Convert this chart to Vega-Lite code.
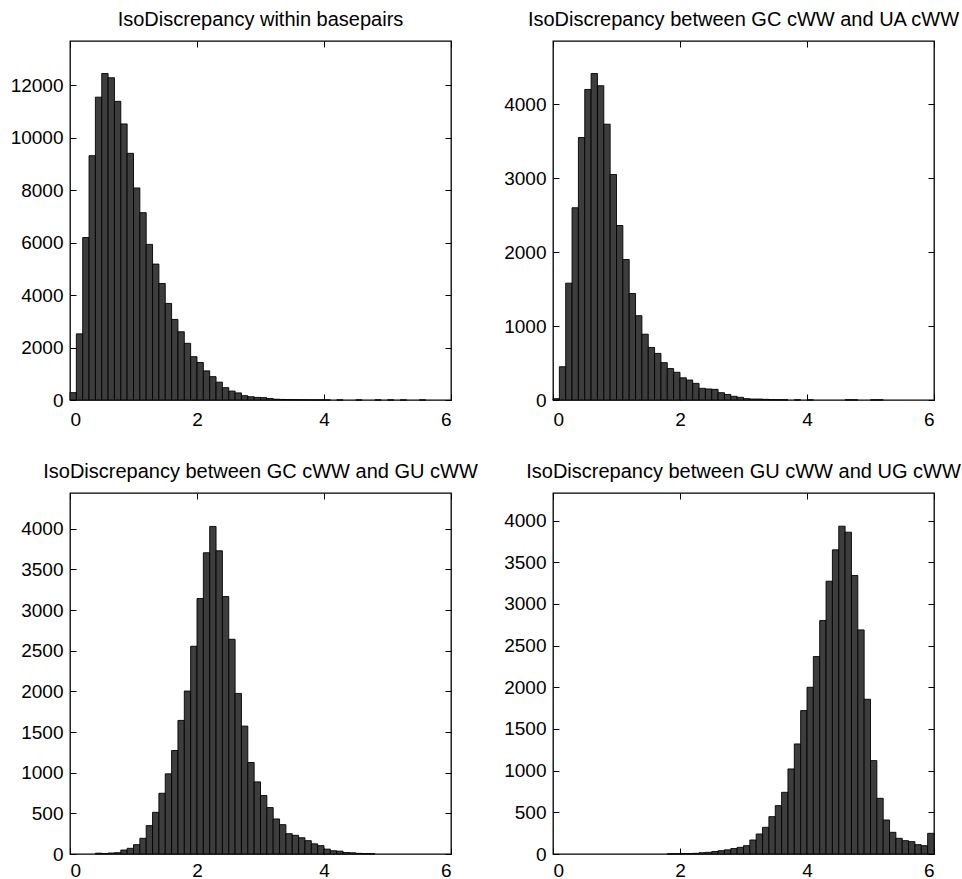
{
  "$schema": "https://vega.github.io/schema/vega-lite/v6.json",
  "background": "white",
  "padding": {"left": 9, "top": 8, "right": 5, "bottom": 0},
  "bounds": "flush",
  "spacing": {"row": 93, "column": 102},
  "columns": 2,
  "data": {"name": "hist"},
  "datasets": {
    "hist": [
      {"panel": "a", "b0": 0.0, "b1": 0.1, "count": 280},
      {"panel": "a", "b0": 0.1, "b1": 0.2, "count": 2520},
      {"panel": "a", "b0": 0.2, "b1": 0.3, "count": 6190},
      {"panel": "a", "b0": 0.3, "b1": 0.4, "count": 9310},
      {"panel": "a", "b0": 0.4, "b1": 0.5, "count": 11540},
      {"panel": "a", "b0": 0.5, "b1": 0.6, "count": 12440},
      {"panel": "a", "b0": 0.6, "b1": 0.7, "count": 12280},
      {"panel": "a", "b0": 0.7, "b1": 0.8, "count": 11380},
      {"panel": "a", "b0": 0.8, "b1": 0.9, "count": 10520},
      {"panel": "a", "b0": 0.9, "b1": 1.0, "count": 9400},
      {"panel": "a", "b0": 1.0, "b1": 1.1, "count": 8080},
      {"panel": "a", "b0": 1.1, "b1": 1.2, "count": 7140},
      {"panel": "a", "b0": 1.2, "b1": 1.3, "count": 5930},
      {"panel": "a", "b0": 1.3, "b1": 1.4, "count": 5180},
      {"panel": "a", "b0": 1.4, "b1": 1.5, "count": 4440},
      {"panel": "a", "b0": 1.5, "b1": 1.6, "count": 3680},
      {"panel": "a", "b0": 1.6, "b1": 1.7, "count": 3070},
      {"panel": "a", "b0": 1.7, "b1": 1.8, "count": 2600},
      {"panel": "a", "b0": 1.8, "b1": 1.9, "count": 2160},
      {"panel": "a", "b0": 1.9, "b1": 2.0, "count": 1650},
      {"panel": "a", "b0": 2.0, "b1": 2.1, "count": 1430},
      {"panel": "a", "b0": 2.1, "b1": 2.2, "count": 1110},
      {"panel": "a", "b0": 2.2, "b1": 2.3, "count": 890},
      {"panel": "a", "b0": 2.3, "b1": 2.4, "count": 680},
      {"panel": "a", "b0": 2.4, "b1": 2.5, "count": 470},
      {"panel": "a", "b0": 2.5, "b1": 2.6, "count": 340},
      {"panel": "a", "b0": 2.6, "b1": 2.7, "count": 270},
      {"panel": "a", "b0": 2.7, "b1": 2.8, "count": 165},
      {"panel": "a", "b0": 2.8, "b1": 2.9, "count": 125},
      {"panel": "a", "b0": 2.9, "b1": 3.0, "count": 100},
      {"panel": "a", "b0": 3.0, "b1": 3.1, "count": 90},
      {"panel": "a", "b0": 3.1, "b1": 3.2, "count": 55},
      {"panel": "a", "b0": 3.2, "b1": 3.3, "count": 30},
      {"panel": "a", "b0": 3.3, "b1": 3.4, "count": 22},
      {"panel": "a", "b0": 3.4, "b1": 3.5, "count": 15},
      {"panel": "a", "b0": 3.5, "b1": 3.6, "count": 12},
      {"panel": "a", "b0": 3.6, "b1": 3.7, "count": 9},
      {"panel": "a", "b0": 3.7, "b1": 3.8, "count": 6},
      {"panel": "a", "b0": 3.8, "b1": 3.9, "count": 5},
      {"panel": "a", "b0": 3.9, "b1": 4.0, "count": 4},
      {"panel": "a", "b0": 4.0, "b1": 4.1, "count": 3},
      {"panel": "a", "b0": 4.2, "b1": 4.3, "count": 2},
      {"panel": "a", "b0": 4.5, "b1": 4.6, "count": 2},
      {"panel": "a", "b0": 4.8, "b1": 4.9, "count": 3},
      {"panel": "a", "b0": 5.0, "b1": 5.1, "count": 2},
      {"panel": "a", "b0": 5.2, "b1": 5.3, "count": 1},
      {"panel": "a", "b0": 5.5, "b1": 5.6, "count": 2},

      {"panel": "b", "b0": 0.0, "b1": 0.1, "count": 18},
      {"panel": "b", "b0": 0.1, "b1": 0.2, "count": 450},
      {"panel": "b", "b0": 0.2, "b1": 0.3, "count": 1580},
      {"panel": "b", "b0": 0.3, "b1": 0.4, "count": 2600},
      {"panel": "b", "b0": 0.4, "b1": 0.5, "count": 3550},
      {"panel": "b", "b0": 0.5, "b1": 0.6, "count": 4200},
      {"panel": "b", "b0": 0.6, "b1": 0.7, "count": 4415},
      {"panel": "b", "b0": 0.7, "b1": 0.8, "count": 4250},
      {"panel": "b", "b0": 0.8, "b1": 0.9, "count": 3730},
      {"panel": "b", "b0": 0.9, "b1": 1.0, "count": 3050},
      {"panel": "b", "b0": 1.0, "b1": 1.1, "count": 2360},
      {"panel": "b", "b0": 1.1, "b1": 1.2, "count": 1900},
      {"panel": "b", "b0": 1.2, "b1": 1.3, "count": 1440},
      {"panel": "b", "b0": 1.3, "b1": 1.4, "count": 1140},
      {"panel": "b", "b0": 1.4, "b1": 1.5, "count": 890},
      {"panel": "b", "b0": 1.5, "b1": 1.6, "count": 710},
      {"panel": "b", "b0": 1.6, "b1": 1.7, "count": 630},
      {"panel": "b", "b0": 1.7, "b1": 1.8, "count": 505},
      {"panel": "b", "b0": 1.8, "b1": 1.9, "count": 425},
      {"panel": "b", "b0": 1.9, "b1": 2.0, "count": 375},
      {"panel": "b", "b0": 2.0, "b1": 2.1, "count": 300},
      {"panel": "b", "b0": 2.1, "b1": 2.2, "count": 270},
      {"panel": "b", "b0": 2.2, "b1": 2.3, "count": 225},
      {"panel": "b", "b0": 2.3, "b1": 2.4, "count": 158},
      {"panel": "b", "b0": 2.4, "b1": 2.5, "count": 149},
      {"panel": "b", "b0": 2.5, "b1": 2.6, "count": 144},
      {"panel": "b", "b0": 2.6, "b1": 2.7, "count": 99},
      {"panel": "b", "b0": 2.7, "b1": 2.8, "count": 75},
      {"panel": "b", "b0": 2.8, "b1": 2.9, "count": 50},
      {"panel": "b", "b0": 2.9, "b1": 3.0, "count": 36},
      {"panel": "b", "b0": 3.0, "b1": 3.1, "count": 18},
      {"panel": "b", "b0": 3.1, "b1": 3.2, "count": 13},
      {"panel": "b", "b0": 3.2, "b1": 3.3, "count": 13},
      {"panel": "b", "b0": 3.3, "b1": 3.4, "count": 9},
      {"panel": "b", "b0": 3.4, "b1": 3.5, "count": 5},
      {"panel": "b", "b0": 3.5, "b1": 3.6, "count": 4},
      {"panel": "b", "b0": 3.6, "b1": 3.7, "count": 3},
      {"panel": "b", "b0": 3.8, "b1": 3.9, "count": 2},
      {"panel": "b", "b0": 4.0, "b1": 4.1, "count": 2},
      {"panel": "b", "b0": 4.6, "b1": 4.7, "count": 3},
      {"panel": "b", "b0": 4.7, "b1": 4.8, "count": 2},
      {"panel": "b", "b0": 5.0, "b1": 5.1, "count": 2},
      {"panel": "b", "b0": 5.1, "b1": 5.2, "count": 2},

      {"panel": "c", "b0": 0.4, "b1": 0.5, "count": 10},
      {"panel": "c", "b0": 0.5, "b1": 0.6, "count": 4},
      {"panel": "c", "b0": 0.6, "b1": 0.7, "count": 12},
      {"panel": "c", "b0": 0.7, "b1": 0.8, "count": 16},
      {"panel": "c", "b0": 0.8, "b1": 0.9, "count": 49},
      {"panel": "c", "b0": 0.9, "b1": 1.0, "count": 70},
      {"panel": "c", "b0": 1.0, "b1": 1.1, "count": 115},
      {"panel": "c", "b0": 1.1, "b1": 1.2, "count": 193},
      {"panel": "c", "b0": 1.2, "b1": 1.3, "count": 349},
      {"panel": "c", "b0": 1.3, "b1": 1.4, "count": 513},
      {"panel": "c", "b0": 1.4, "b1": 1.5, "count": 747},
      {"panel": "c", "b0": 1.5, "b1": 1.6, "count": 986},
      {"panel": "c", "b0": 1.6, "b1": 1.7, "count": 1273},
      {"panel": "c", "b0": 1.7, "b1": 1.8, "count": 1643},
      {"panel": "c", "b0": 1.8, "b1": 1.9, "count": 2004},
      {"panel": "c", "b0": 1.9, "b1": 2.0, "count": 2555},
      {"panel": "c", "b0": 2.0, "b1": 2.1, "count": 3142},
      {"panel": "c", "b0": 2.1, "b1": 2.2, "count": 3705},
      {"panel": "c", "b0": 2.2, "b1": 2.3, "count": 4029},
      {"panel": "c", "b0": 2.3, "b1": 2.4, "count": 3729},
      {"panel": "c", "b0": 2.4, "b1": 2.5, "count": 3166},
      {"panel": "c", "b0": 2.5, "b1": 2.6, "count": 2641},
      {"panel": "c", "b0": 2.6, "b1": 2.7, "count": 1975},
      {"panel": "c", "b0": 2.7, "b1": 2.8, "count": 1573},
      {"panel": "c", "b0": 2.8, "b1": 2.9, "count": 1125},
      {"panel": "c", "b0": 2.9, "b1": 3.0, "count": 887},
      {"panel": "c", "b0": 3.0, "b1": 3.1, "count": 719},
      {"panel": "c", "b0": 3.1, "b1": 3.2, "count": 571},
      {"panel": "c", "b0": 3.2, "b1": 3.3, "count": 431},
      {"panel": "c", "b0": 3.3, "b1": 3.4, "count": 361},
      {"panel": "c", "b0": 3.4, "b1": 3.5, "count": 250},
      {"panel": "c", "b0": 3.5, "b1": 3.6, "count": 230},
      {"panel": "c", "b0": 3.6, "b1": 3.7, "count": 200},
      {"panel": "c", "b0": 3.7, "b1": 3.8, "count": 164},
      {"panel": "c", "b0": 3.8, "b1": 3.9, "count": 125},
      {"panel": "c", "b0": 3.9, "b1": 4.0, "count": 103},
      {"panel": "c", "b0": 4.0, "b1": 4.1, "count": 60},
      {"panel": "c", "b0": 4.1, "b1": 4.2, "count": 40},
      {"panel": "c", "b0": 4.2, "b1": 4.3, "count": 35},
      {"panel": "c", "b0": 4.3, "b1": 4.4, "count": 18},
      {"panel": "c", "b0": 4.4, "b1": 4.5, "count": 15},
      {"panel": "c", "b0": 4.5, "b1": 4.6, "count": 8},
      {"panel": "c", "b0": 4.6, "b1": 4.7, "count": 5},
      {"panel": "c", "b0": 4.7, "b1": 4.8, "count": 3},

      {"panel": "d", "b0": 1.8, "b1": 1.9, "count": 2},
      {"panel": "d", "b0": 1.9, "b1": 2.0, "count": 3},
      {"panel": "d", "b0": 2.0, "b1": 2.1, "count": 4},
      {"panel": "d", "b0": 2.1, "b1": 2.2, "count": 5},
      {"panel": "d", "b0": 2.2, "b1": 2.3, "count": 8},
      {"panel": "d", "b0": 2.3, "b1": 2.4, "count": 15},
      {"panel": "d", "b0": 2.4, "b1": 2.5, "count": 20},
      {"panel": "d", "b0": 2.5, "b1": 2.6, "count": 30},
      {"panel": "d", "b0": 2.6, "b1": 2.7, "count": 40},
      {"panel": "d", "b0": 2.7, "b1": 2.8, "count": 50},
      {"panel": "d", "b0": 2.8, "b1": 2.9, "count": 65},
      {"panel": "d", "b0": 2.9, "b1": 3.0, "count": 80},
      {"panel": "d", "b0": 3.0, "b1": 3.1, "count": 100},
      {"panel": "d", "b0": 3.1, "b1": 3.2, "count": 168},
      {"panel": "d", "b0": 3.2, "b1": 3.3, "count": 240},
      {"panel": "d", "b0": 3.3, "b1": 3.4, "count": 320},
      {"panel": "d", "b0": 3.4, "b1": 3.5, "count": 448},
      {"panel": "d", "b0": 3.5, "b1": 3.6, "count": 580},
      {"panel": "d", "b0": 3.6, "b1": 3.7, "count": 740},
      {"panel": "d", "b0": 3.7, "b1": 3.8, "count": 1020},
      {"panel": "d", "b0": 3.8, "b1": 3.9, "count": 1320},
      {"panel": "d", "b0": 3.9, "b1": 4.0, "count": 1720},
      {"panel": "d", "b0": 4.0, "b1": 4.1, "count": 2000},
      {"panel": "d", "b0": 4.1, "b1": 4.2, "count": 2368},
      {"panel": "d", "b0": 4.2, "b1": 4.3, "count": 2800},
      {"panel": "d", "b0": 4.3, "b1": 4.4, "count": 3272},
      {"panel": "d", "b0": 4.4, "b1": 4.5, "count": 3648},
      {"panel": "d", "b0": 4.5, "b1": 4.6, "count": 3932},
      {"panel": "d", "b0": 4.6, "b1": 4.7, "count": 3860},
      {"panel": "d", "b0": 4.7, "b1": 4.8, "count": 3340},
      {"panel": "d", "b0": 4.8, "b1": 4.9, "count": 2688},
      {"panel": "d", "b0": 4.9, "b1": 5.0, "count": 1856},
      {"panel": "d", "b0": 5.0, "b1": 5.1, "count": 1120},
      {"panel": "d", "b0": 5.1, "b1": 5.2, "count": 668},
      {"panel": "d", "b0": 5.2, "b1": 5.3, "count": 408},
      {"panel": "d", "b0": 5.3, "b1": 5.4, "count": 260},
      {"panel": "d", "b0": 5.4, "b1": 5.5, "count": 188},
      {"panel": "d", "b0": 5.5, "b1": 5.6, "count": 160},
      {"panel": "d", "b0": 5.6, "b1": 5.7, "count": 148},
      {"panel": "d", "b0": 5.7, "b1": 5.8, "count": 112},
      {"panel": "d", "b0": 5.8, "b1": 5.9, "count": 100},
      {"panel": "d", "b0": 5.9, "b1": 6.0, "count": 248}
    ]
  },
  "concat": [
    {
      "transform": [{"filter": "datum.panel === 'a'"}],
      "width": 381, "height": 359,
      "title": {"text": "IsoDiscrepancy within basepairs"},
      "layer": [
        {"mark": {"type": "bar", "fill": "#3d3d3d", "stroke": "#000", "strokeWidth": 0.9},
         "encoding": {
           "x": {"field": "b0", "type": "quantitative", "title": null, "scale": {"domain": [0, 6], "nice": false, "zero": false}, "axis": {"orient": "bottom", "values": [0, 2, 4, 6], "format": "d", "labelPadding": 16}},
           "x2": {"field": "b1"},
           "y": {"field": "count", "type": "quantitative", "title": null, "scale": {"domain": [0, 13680], "nice": false}, "axis": {"orient": "left", "values": [0, 2000, 4000, 6000, 8000, 10000, 12000], "format": "d"}},
           "y2": {"datum": 0}}},
        {"mark": {"type": "bar", "opacity": 0},
         "encoding": {
           "x": {"field": "b0", "type": "quantitative", "title": null, "axis": {"orient": "top", "values": [0, 2, 4, 6], "labels": false}},
           "x2": {"field": "b1"},
           "y": {"field": "count", "type": "quantitative", "title": null, "axis": {"orient": "right", "values": [0, 2000, 4000, 6000, 8000, 10000, 12000], "labels": false}},
           "y2": {"datum": 0}}}
      ],
      "resolve": {"axis": {"x": "independent", "y": "independent"}}
    },
    {
      "transform": [{"filter": "datum.panel === 'b'"}],
      "width": 381, "height": 359,
      "title": {"text": "IsoDiscrepancy between GC cWW  and UA cWW"},
      "layer": [
        {"mark": {"type": "bar", "fill": "#3d3d3d", "stroke": "#000", "strokeWidth": 0.9},
         "encoding": {
           "x": {"field": "b0", "type": "quantitative", "title": null, "scale": {"domain": [0, 6], "nice": false, "zero": false}, "axis": {"orient": "bottom", "values": [0, 2, 4, 6], "format": "d", "labelPadding": 16}},
           "x2": {"field": "b1"},
           "y": {"field": "count", "type": "quantitative", "title": null, "scale": {"domain": [0, 4855], "nice": false}, "axis": {"orient": "left", "values": [0, 1000, 2000, 3000, 4000], "format": "d"}},
           "y2": {"datum": 0}}},
        {"mark": {"type": "bar", "opacity": 0},
         "encoding": {
           "x": {"field": "b0", "type": "quantitative", "title": null, "axis": {"orient": "top", "values": [0, 2, 4, 6], "labels": false}},
           "x2": {"field": "b1"},
           "y": {"field": "count", "type": "quantitative", "title": null, "axis": {"orient": "right", "values": [0, 1000, 2000, 3000, 4000], "labels": false}},
           "y2": {"datum": 0}}}
      ],
      "resolve": {"axis": {"x": "independent", "y": "independent"}}
    },
    {
      "transform": [{"filter": "datum.panel === 'c'"}],
      "width": 381, "height": 361,
      "title": {"text": "IsoDiscrepancy between GC cWW  and GU cWW"},
      "layer": [
        {"mark": {"type": "bar", "fill": "#3d3d3d", "stroke": "#000", "strokeWidth": 0.9},
         "encoding": {
           "x": {"field": "b0", "type": "quantitative", "title": null, "scale": {"domain": [0, 6], "nice": false, "zero": false}, "axis": {"orient": "bottom", "values": [0, 2, 4, 6], "format": "d", "labelPadding": 13}},
           "x2": {"field": "b1"},
           "y": {"field": "count", "type": "quantitative", "title": null, "scale": {"domain": [0, 4440], "nice": false}, "axis": {"orient": "left", "values": [0, 500, 1000, 1500, 2000, 2500, 3000, 3500, 4000], "format": "d"}},
           "y2": {"datum": 0}}},
        {"mark": {"type": "bar", "opacity": 0},
         "encoding": {
           "x": {"field": "b0", "type": "quantitative", "title": null, "axis": {"orient": "top", "values": [0, 2, 4, 6], "labels": false}},
           "x2": {"field": "b1"},
           "y": {"field": "count", "type": "quantitative", "title": null, "axis": {"orient": "right", "values": [0, 500, 1000, 1500, 2000, 2500, 3000, 3500, 4000], "labels": false}},
           "y2": {"datum": 0}}}
      ],
      "resolve": {"axis": {"x": "independent", "y": "independent"}}
    },
    {
      "transform": [{"filter": "datum.panel === 'd'"}],
      "width": 381, "height": 361,
      "title": {"text": "IsoDiscrepancy between GU cWW  and UG cWW"},
      "layer": [
        {"mark": {"type": "bar", "fill": "#3d3d3d", "stroke": "#000", "strokeWidth": 0.9},
         "encoding": {
           "x": {"field": "b0", "type": "quantitative", "title": null, "scale": {"domain": [0, 6], "nice": false, "zero": false}, "axis": {"orient": "bottom", "values": [0, 2, 4, 6], "format": "d", "labelPadding": 13}},
           "x2": {"field": "b1"},
           "y": {"field": "count", "type": "quantitative", "title": null, "scale": {"domain": [0, 4330], "nice": false}, "axis": {"orient": "left", "values": [0, 500, 1000, 1500, 2000, 2500, 3000, 3500, 4000], "format": "d"}},
           "y2": {"datum": 0}}},
        {"mark": {"type": "bar", "opacity": 0},
         "encoding": {
           "x": {"field": "b0", "type": "quantitative", "title": null, "axis": {"orient": "top", "values": [0, 2, 4, 6], "labels": false}},
           "x2": {"field": "b1"},
           "y": {"field": "count", "type": "quantitative", "title": null, "axis": {"orient": "right", "values": [0, 500, 1000, 1500, 2000, 2500, 3000, 3500, 4000], "labels": false}},
           "y2": {"datum": 0}}}
      ],
      "resolve": {"axis": {"x": "independent", "y": "independent"}}
    }
  ],
  "config": {
    "view": {"stroke": "#000", "strokeWidth": 1.3},
    "axis": {"grid": false, "domain": false, "labelFont": "Liberation Sans", "labelFontSize": 19, "labelColor": "#000", "tickColor": "#000", "tickWidth": 1, "tickSize": -6},
    "axisX": {"labelPadding": 12},
    "axisY": {"labelPadding": 13},
    "title": {"font": "Liberation Sans", "fontSize": 20, "fontWeight": "normal", "color": "#000", "anchor": "middle", "frame": "group", "baseline": "alphabetic", "offset": 11}
  }
}
